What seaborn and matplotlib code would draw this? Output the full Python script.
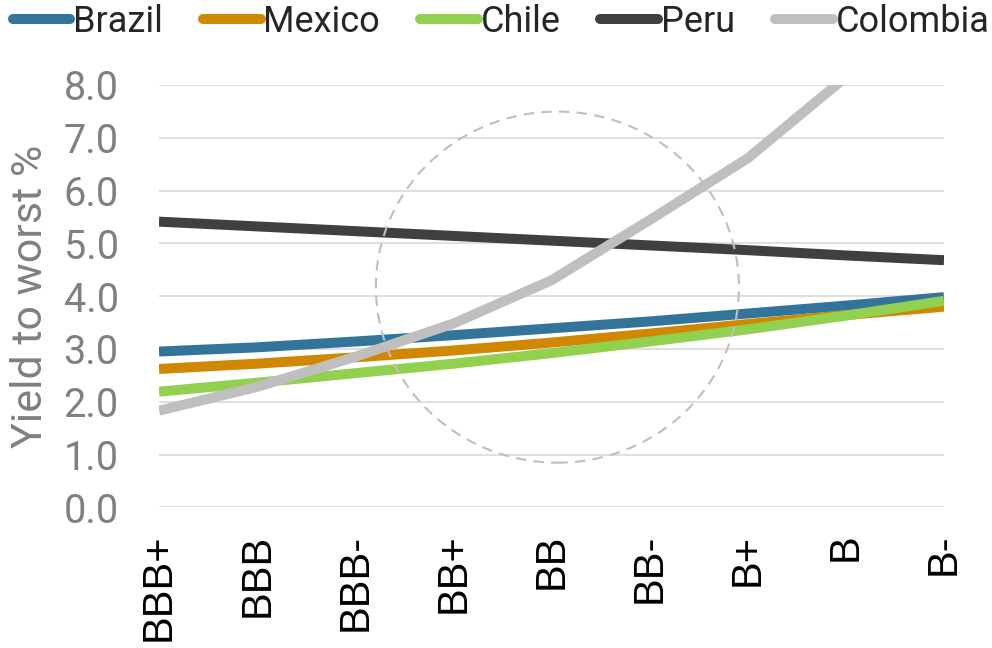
import numpy as np
import pandas as pd
import matplotlib
matplotlib.use("Agg")
import matplotlib.pyplot as plt
from matplotlib.patches import Ellipse
from matplotlib.lines import Line2D
import seaborn as sns

# Credit rating buckets along the x axis
ratings = ["BBB+", "BBB", "BBB-", "BB+", "BB", "BB-", "B+", "B", "B-"]

# Yield to worst (%) by rating bucket
brazil = [2.95, 3.03, 3.14, 3.26, 3.39, 3.52, 3.67, 3.82, 3.98]
mexico = [2.62, 2.72, 2.84, 2.97, 3.12, 3.29, 3.47, 3.64, 3.80]
chile = [2.19, 2.36, 2.54, 2.72, 2.92, 3.14, 3.37, 3.63, 3.91]
peru = [5.41, 5.32, 5.23, 5.14, 5.05, 4.96, 4.87, 4.77, 4.68]
colombia = [1.83, 2.28, 2.85, 3.48, 4.30, 5.44, 6.61, 8.15, 10.0]

countries = ["Brazil", "Mexico", "Chile", "Peru", "Colombia"]
colors = ["#33759A", "#D08800", "#92D050", "#404040", "#BFBFBF"]
yticks = [0, 1, 2, 3, 4, 5, 6, 7, 8]

series = dict(zip(countries, [brazil, mexico, chile, peru, colombia]))
df = pd.DataFrame(
    [(i, r, c, v) for c in countries for i, (r, v) in enumerate(zip(ratings, series[c]))],
    columns=["pos", "rating", "country", "ytw"],
)

sns.set_theme(style="white")
plt.rcParams["font.family"] = ["Roboto", "DejaVu Sans"]

fig = plt.figure(figsize=(9.92, 6.48), dpi=100)
ax = fig.add_axes([159 / 992, 1 - 507.3 / 648, (944 - 159) / 992, (507.3 - 84.9) / 648])

sns.lineplot(
    data=df, x="pos", y="ytw", hue="country", hue_order=countries,
    palette=dict(zip(countries, colors)), linewidth=7.2, legend=False,
    sort=False, ax=ax,
)
for ln in ax.lines:
    ln.set_solid_capstyle("butt")
    ln.set_solid_joinstyle("round")

# Highlight region around the crossover
ax.add_patch(Ellipse((4.06, 4.17), 3.70, 6.65, fill=False, edgecolor="#BFBFBF",
                     linewidth=1.5, linestyle=(0, (5, 3.5)), zorder=10))

ax.set_xlim(0, len(ratings) - 1)
ax.set_ylim(0, 8)
ax.set_xticks(range(len(ratings)))
ax.set_xticklabels(ratings, rotation=90, fontsize=30, color="black",
                   family=["Liberation Sans", "DejaVu Sans"], va="top", ha="center")
ax.set_yticks(yticks)
ax.set_yticklabels([f"{t:.1f}" for t in yticks], fontsize=28.5, color="#808080")
ax.tick_params(axis="y", length=0, pad=29)
ax.tick_params(axis="x", length=0, pad=19)
ax.set_xlabel("")
ax.set_ylabel("Yield to worst %", fontsize=31, color="#808080")
ax.yaxis.set_label_coords(-0.138, 0.5)
ax.yaxis.grid(True, color="#D9D9D9", linewidth=1.2)
ax.xaxis.grid(False)
ax.set_axisbelow(True)
for s in ax.spines.values():
    s.set_visible(False)

handles = [Line2D([], [], color=c, linewidth=7.2, solid_capstyle="round") for c in colors]
fig.legend(handles, countries, loc="upper center", bbox_to_anchor=(0.505, 1.028), ncol=5,
           frameon=False, fontsize=26, handlelength=1.6, handletextpad=0.08,
           columnspacing=1.1, borderaxespad=0.2)

fig.savefig("out.png", dpi=100, facecolor="white")
